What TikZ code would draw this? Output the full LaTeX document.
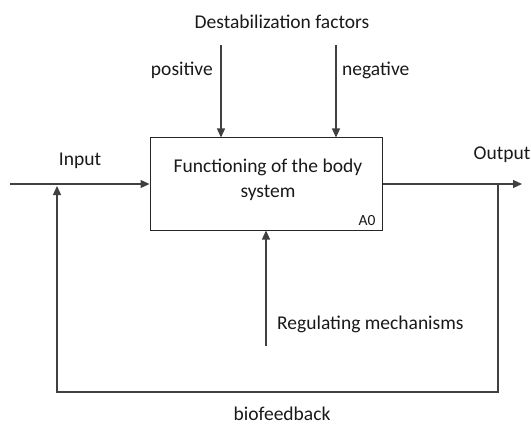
\documentclass[tikz,border=0pt]{standalone}
\usepackage{fontspec}
\setmainfont{Carlito}
\usetikzlibrary{arrows.meta}
\begin{document}
\begin{tikzpicture}[x=1pt,y=-1pt,
  lbl/.style={font=\fontsize{19.5}{25}\selectfont, inner sep=0pt, text=black!90},
  conn/.style={draw=black!75, line width=1.3pt},
  arr/.style={conn, -{Triangle[length=9pt,width=8pt]}},
  func/.style={draw=black!85, line width=1pt}]
\useasboundingbox (0,0) rectangle (531,428);
% function box
\node[func, minimum width=232pt, minimum height=92pt, inner sep=0pt] (box) at (266,184) {};
\node[lbl, align=center] (title) at (268,180) {Functioning of the body\\system};
\node[lbl, font=\fontsize{15.5}{18}\selectfont] (a0) at (367,221) {A0};
% coordinates
\coordinate (inS) at (10,184);
\coordinate (outE) at (522,184);
\coordinate (posS) at (221,45);
\coordinate (negS) at (336,45);
\coordinate (regS) at (266,346);
\coordinate (fbTop) at (498,184);
\coordinate (fbR) at (498,392);
\coordinate (fbL) at (57,392);
\coordinate (fbEnd) at (57,186);
% connectors
\draw[arr] (inS) -- (box.west);
\draw[arr] (box.east) -- (outE);
\draw[arr] (posS) -- (posS |- box.north);
\draw[arr] (negS) -- (negS |- box.north);
\draw[arr] (regS) -- (box.south);
\draw[arr] (fbTop) -- (fbR) -- (fbL) -- (fbEnd);
% labels
\node[lbl] (dest) at (282,22) {Destabilization factors};
\node[lbl, anchor=east] (pos) at (213,70) {positive};
\node[lbl, anchor=west] (neg) at (342,70) {negative};
\node[lbl] (in) at (80,161) {Input};
\node[lbl] (out) at (502,155) {Output};
\node[lbl, anchor=west] (reg) at (277,324) {Regulating mechanisms};
\node[lbl] (bio) at (282,414) {biofeedback};
\end{tikzpicture}
\end{document}
